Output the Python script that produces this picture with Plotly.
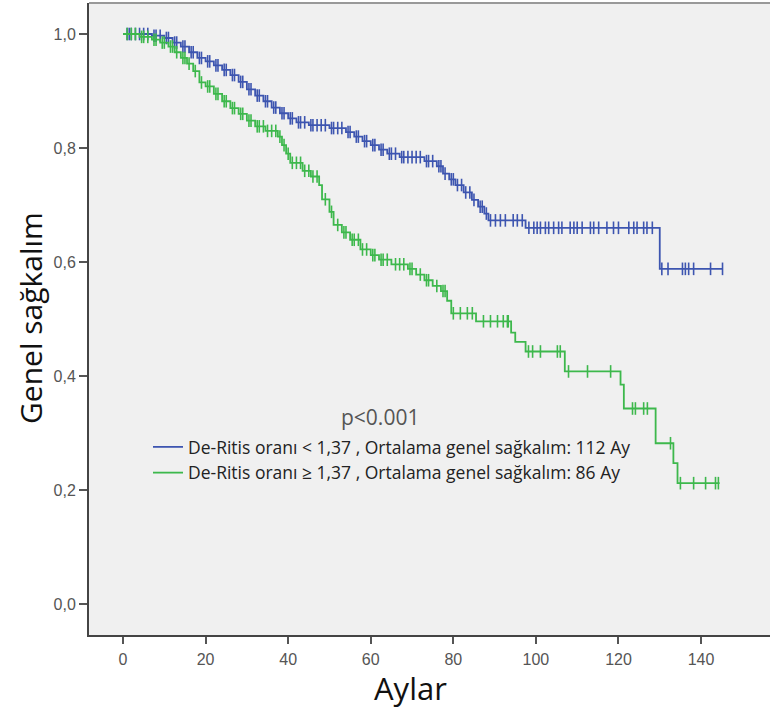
import numpy as np
import plotly.graph_objects as go

# ---------------- data ----------------
group_names = [
    "De-Ritis oranı < 1,37 , Ortalama genel sağkalım: 112 Ay",
    "De-Ritis oranı ≥ 1,37 , Ortalama genel sağkalım: 86 Ay",
]

# Group 1 (blue): step times and survival after each step
blue_t = [0, 7, 10, 12, 14, 16, 18, 20, 22, 24, 26, 28, 30, 32, 34, 36, 38, 40, 42, 45,
          50, 54, 56, 58, 60, 62, 64, 67, 73, 76, 77.5, 79, 80.5, 82.5, 84.5, 86, 87.5,
          88.5, 97.5, 130]
blue_s = [1.0, 0.997, 0.993, 0.985, 0.978, 0.968, 0.958, 0.952, 0.945, 0.937, 0.928,
          0.916, 0.903, 0.892, 0.882, 0.871, 0.861, 0.852, 0.845, 0.840, 0.835, 0.828,
          0.820, 0.812, 0.805, 0.797, 0.790, 0.784, 0.777, 0.768, 0.755, 0.745, 0.735,
          0.722, 0.709, 0.697, 0.685, 0.673, 0.660, 0.588]
blue_end = 145.3
blue_censor = [1, 1.5, 2, 3, 4, 5, 6, 7.5, 8, 9, 10.5, 11, 12.5, 13, 14.5, 15, 16.5, 17,
               18.5, 19, 20.5, 21, 22.5, 23, 24.5, 25, 26.5, 27, 28.5, 29, 30.5, 31, 32.5,
               33, 34.5, 35, 36.5, 37, 38.5, 39, 40.5, 41, 42.5, 43, 44, 45.5, 46, 47, 48,
               49, 50.5, 51, 52, 53, 54.5, 55, 56.5, 57, 58.5, 59, 60.5, 61, 62.5, 63, 64.5,
               65, 66, 67.5, 68, 69, 70, 71, 72, 73.5, 74, 75, 76.5, 77, 78, 79.5, 80, 81,
               82, 83, 84, 85, 86.5, 87, 88,
               89, 90.2, 91.4, 92.6, 94.5, 95.5, 96.7,
               98.3, 99.5, 100.3, 101.1, 102.3, 103.1, 104.3, 105.5, 106.3, 108.3, 109.2,
               110, 111.2, 113.2, 114, 115.2, 117.2, 118.8, 120, 122.5, 123.7, 124.5,
               126.1, 126.9, 128.2,
               130.5, 132, 135.5, 136.2, 137, 138.2, 142.3, 145.2]

# Group 2 (green)
green_t = [0, 4, 7, 9, 11, 12.5, 14, 15.5, 17, 18.5, 20, 22, 24, 26, 28, 30, 32, 34.5,
           37.5, 38.5, 39.5, 40.5, 43.5, 45.5, 47.5, 48.2, 50, 51, 53, 55, 57.5, 60, 62,
           65, 69, 71, 73, 75, 77, 78.5, 79.5, 85.5, 94, 95, 97.5, 107, 120.5, 121.3,
           129, 133.3, 134.3]
green_s = [1.0, 0.995, 0.990, 0.985, 0.978, 0.968, 0.958, 0.948, 0.935, 0.915, 0.908,
           0.895, 0.882, 0.870, 0.860, 0.848, 0.838, 0.830, 0.820, 0.805, 0.790, 0.774,
           0.760, 0.750, 0.735, 0.710, 0.688, 0.665, 0.652, 0.639, 0.622, 0.612, 0.604,
           0.596, 0.588, 0.578, 0.568, 0.558, 0.549, 0.532, 0.510, 0.496, 0.476, 0.460,
           0.443, 0.408, 0.385, 0.343, 0.282, 0.247, 0.212]
green_end = 144.5
green_censor = [1, 2, 3, 4.5, 5, 6, 7.5, 8, 9.5, 10, 11.5, 12, 13, 14.5, 15, 16, 17.5, 19,
                20.5, 21, 22.5, 23, 24.5, 25, 26.5, 27, 28.5, 29, 30.5, 31, 32.5, 33, 34,
                35, 36, 37, 38, 39, 40, 41, 42, 43, 44, 45, 46, 47, 49, 50.5, 52, 53.5, 54,
                55.5, 56, 57, 58, 59, 60.5, 61, 62.5, 63, 64, 66, 67, 68, 69.5, 70, 72,
                73.5, 74, 76, 77.5, 78,
                80, 81.7, 83.4, 84.6, 87.3, 89, 90.7, 92.1, 93.1, 93.3,
                98.2, 99.2, 101.1, 105.2, 105.9, 107.9, 112.5, 118.1,
                123.4, 124.1, 126.1, 127.0, 132.6, 135, 138.2, 141.1, 143.5, 144.2]

x_ticks = [0, 20, 40, 60, 80, 100, 120, 140]
y_ticks = [0.0, 0.2, 0.4, 0.6, 0.8, 1.0]
y_tick_labels = ["0,0", "0,2", "0,4", "0,6", "0,8", "1,0"]
p_text = "p<0.001"
x_title = "Aylar"
y_title = "Genel sağkalım"

colors = ["#3D55B0", "#3DB84C"]


def step_xy(t, s, end):
    return list(t) + [end], list(s) + [s[-1]]


def censor_y(t, s, c):
    idx = np.searchsorted(np.array(t), np.array(c), side="right") - 1
    return list(np.array(s)[idx])


fig = go.Figure()
groups = [(blue_t, blue_s, blue_end, blue_censor), (green_t, green_s, green_end, green_censor)]
for i, (t, s, end, cen) in enumerate(groups):
    xs, ys = step_xy(t, s, end)
    fig.add_trace(go.Scatter(
        x=xs, y=ys, mode="lines", line=dict(color=colors[i], width=1.8, shape="hv"),
        name=group_names[i], hoverinfo="skip"))
    fig.add_trace(go.Scatter(
        x=cen, y=censor_y(t, s, cen), mode="markers", showlegend=False,
        marker=dict(symbol="line-ns", size=9, line=dict(color=colors[i], width=1.6)),
        hoverinfo="skip"))

W, H = 770, 713
ml, mr, mt, mb = 89, 0, 3, 78
PW, PH = W - ml - mr, H - mt - mb

fig.update_layout(
    width=W, height=H,
    margin=dict(l=ml, r=mr, t=mt, b=mb),
    paper_bgcolor="white", plot_bgcolor="#F0F0F0",
    showlegend=True,
    legend=dict(x=(148 - ml) / PW, y=(H - mb - 429) / PH,
                xanchor="left", yanchor="top", bgcolor="rgba(0,0,0,0)",
                font=dict(family="Open Sans", size=17.5, color="#222"),
                tracegroupgap=0, itemwidth=30),
    xaxis=dict(range=[-8.24, 156.7], tickvals=x_ticks, showgrid=False, zeroline=False,
               showline=True, linecolor="#444", linewidth=2, ticks="outside", ticklen=7,
               tickwidth=2, tickcolor="#555", ticklabelstandoff=2,
               tickfont=dict(family="Liberation Sans", size=16, color="#555")),
    yaxis=dict(range=[-0.0544, 1.0544], tickvals=y_ticks, ticktext=y_tick_labels,
               showgrid=False, zeroline=False, showline=True, linecolor="#444",
               linewidth=2, ticks="outside", ticklen=8, tickwidth=2, tickcolor="#555",
               tickfont=dict(family="Liberation Sans", size=16, color="#555")),
    shapes=[dict(type="line", xref="paper", yref="paper", x0=0, x1=1, y0=1, y1=1,
                 line=dict(color="#999", width=2))],
    annotations=[
        dict(text=p_text, xref="paper", yref="paper", xanchor="center", yanchor="middle",
             x=(380 - ml) / PW, y=(H - mb - 417) / PH,
             showarrow=False, font=dict(family="Open Sans", size=21, color="#555")),
        dict(text=x_title, xref="paper", yref="paper", xanchor="center", yanchor="middle",
             x=(410 - ml) / PW, y=(H - mb - 688) / PH,
             showarrow=False, font=dict(family="Open Sans", size=31, color="#111")),
        dict(text=y_title, xref="paper", yref="paper", textangle=-90,
             xanchor="center", yanchor="middle",
             x=(30 - ml) / PW, y=(H - mb - 318) / PH,
             showarrow=False, font=dict(family="Open Sans", size=30, color="#111")),
    ],
)

fig.write_html("out.html", config={"displayModeBar": False},
               post_script="document.body.style.margin='0';")
